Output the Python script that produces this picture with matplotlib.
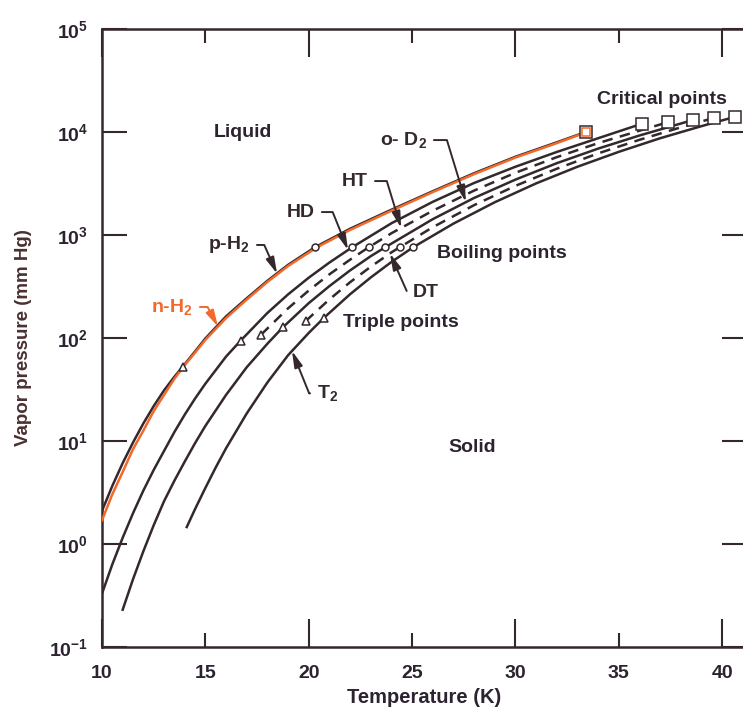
import numpy as np
import matplotlib.pyplot as plt

# fonts: bold sans everywhere, including the math subscripts
plt.rcParams['font.family'] = ['Liberation Sans', 'DejaVu Sans']
plt.rcParams['font.weight'] = 'bold'
plt.rcParams['axes.labelweight'] = 'bold'
plt.rcParams['mathtext.fontset'] = 'custom'
plt.rcParams['mathtext.rm'] = 'Liberation Sans:bold'
plt.rcParams['mathtext.it'] = 'Liberation Sans:bold'
plt.rcParams['mathtext.bf'] = 'Liberation Sans:bold'

INK = '#34282c'
TEXT = '#2c2230'
ORANGE = '#f2692a'

# vapor pressure curves, temperature (K) and pressure (mm Hg)
ph2_T = [10, 10.5, 11, 11.5, 12, 12.5, 13, 13.5, 13.9, 14.5, 15, 16, 17, 18, 19, 20.3,
         22, 24, 26, 28, 30, 32, 33.4]
ph2_P = [2.1, 3.67, 6.1, 9.67, 14.8, 21.8, 31, 42, 52.5, 74, 99, 162, 243, 359, 513, 760,
         1150, 1760, 2660, 3980, 5750, 7940, 10000]

nh2_T = [10, 10.5, 11, 11.5, 12, 12.5, 13, 13.5, 13.95, 14.5, 15, 16, 17, 18, 19, 20.4,
         22, 24, 26, 28, 30, 32, 33.4]
nh2_P = [1.7, 3.04, 5.0, 8.34, 12.6, 19.5, 28, 40.1, 53, 72, 96, 156, 236, 350, 500, 760,
         1120, 1720, 2610, 3900, 5650, 7800, 9900]

hd_T = [10, 10.5, 11, 11.5, 12, 12.5, 13, 13.5, 14, 14.5, 15, 16, 16.7, 18, 19, 20, 21, 22.1,
        24, 26, 28, 30, 32, 34, 36.1]
hd_P = [0.33, 0.635, 1.15, 1.99, 3.3, 5.23, 8.0, 12.2, 18, 25.8, 36, 66, 94, 175, 265, 385, 540, 760,
        1300, 2100, 3200, 4600, 6400, 8700, 12000]

ht_T = [17.7, 19, 20, 21, 22, 22.9, 24, 26, 28, 30, 32, 34, 36, 37.4]
ht_P = [108, 194, 289, 415, 576, 760, 1040, 1720, 2700, 4020, 5700, 7800, 10300, 12500]

d2_T = [11, 11.5, 12, 12.5, 13, 13.5, 14, 14.5, 15, 16, 17, 18, 18.75, 20, 21, 22, 23, 23.7,
        26, 28, 30, 32, 34, 36, 38.6]
d2_P = [0.23, 0.455, 0.85, 1.52, 2.6, 4.11, 6.3, 9.52, 14, 28, 52, 88, 127, 218, 319, 453, 623, 760,
        1425, 2290, 3450, 4980, 6900, 9250, 13100]

dt_T = [19.85, 21, 22, 23, 24, 24.4, 26, 28, 30, 32, 34, 36, 38, 39.6]
dt_P = [146, 237, 348, 492, 678, 760, 1190, 1950, 3000, 4400, 6200, 8400, 11100, 13700]

t2_T = [14.1, 14.5, 15, 15.5, 16, 17, 18, 19, 20, 20.75, 22, 23, 24, 25.05,
        27, 29, 31, 33, 35, 37, 39, 40.6]
t2_P = [1.46, 2.18, 3.5, 5.53, 8.5, 18.5, 37, 68, 112, 158, 266, 387, 547, 760,
        1290, 2080, 3170, 4600, 6420, 8700, 11400, 14000]

# special points
triple_T = [13.9, 16.7, 17.7, 18.75, 19.85, 20.75]
triple_P = [52.5, 94, 108, 127, 146, 158]
boil_T = [20.3, 22.1, 22.9, 23.7, 24.4, 25.05]
boil_P = [760, 760, 760, 760, 760, 760]
crit_T = [33.4, 36.1, 37.4, 38.6, 39.6, 40.6]
crit_P = [10000, 12000, 12500, 13100, 13700, 14000]

x_major = [10, 20, 30, 40]
x_minor = [15, 25, 35]
y_ticks = [1e-1, 1e0, 1e1, 1e2, 1e3, 1e4, 1e5]
y_labels = [r'$10^{-1}$', r'$10^{0}$', r'$10^{1}$', r'$10^{2}$',
            r'$10^{3}$', r'$10^{4}$', r'$10^{5}$']

fig = plt.figure(figsize=(7.43, 7.13), dpi=100)
ax = fig.add_axes([102 / 743, 66 / 713, 645 / 743, 618 / 713])
ax.set_yscale('log')
ax.set_xlim(10, 41.2)
ax.set_ylim(1e-1, 1e5)

lw = 1.8
ax.plot(ph2_T, ph2_P, color=INK, lw=lw, zorder=3)
ax.plot(nh2_T, nh2_P, color=ORANGE, lw=lw, zorder=3)
ax.plot(hd_T, hd_P, color=INK, lw=lw)
ax.plot(ht_T, ht_P, color=INK, lw=lw, dashes=(4.2, 3))
ax.plot(d2_T, d2_P, color=INK, lw=lw)
ax.plot(dt_T, dt_P, color=INK, lw=lw, dashes=(4.2, 3))
ax.plot(t2_T, t2_P, color=INK, lw=lw)

ax.plot(triple_T, triple_P, ls='none', marker='^', ms=6, mfc='white', mec=INK, mew=1.1, zorder=4)
ax.plot(boil_T, boil_P, ls='none', marker='o', ms=5, mfc='white', mec=INK, mew=1.1, zorder=4)
ax.plot(crit_T, crit_P, ls='none', marker='s', ms=8, mfc='white', mec=INK, mew=1.1, zorder=4)
ax.plot(crit_T[0], crit_P[0], ls='none', marker='s', ms=6, mfc='none', mec=ORANGE, mew=1.1, zorder=5)

# region and point-type labels
fs = 14
ax.text(16.8, 9800, 'Liquid', fontsize=fs, color=TEXT, ha='center', va='center')
ax.text(27.9, 8.7, 'Solid', fontsize=fs, color=TEXT, ha='center', va='center')
ax.text(37.1, 20500, 'Critical points', fontsize=fs, color=TEXT, ha='center', va='center')
ax.text(26.2, 668, 'Boiling points', fontsize=fs, color=TEXT, ha='left', va='center')
ax.text(21.66, 140, 'Triple points', fontsize=fs, color=TEXT, ha='left', va='center')

# curve labels with hooked leader arrows
curve_labels = [
    ('p-H$_2$', (18.47, 420), (17.16, 800), 'right', -66, INK),
    ('n-H$_2$', (15.61, 129), (14.40, 200), 'right', -62, ORANGE),
    ('HD', (21.9, 715), (20.3, 1670), 'right', -68, INK),
    ('HT', (24.47, 1170), (22.87, 3340), 'right', -73, INK),
    ('o- D$_2$', (27.6, 2090), (25.72, 8350), 'right', -73, INK),
    ('DT', (23.93, 662), (25.05, 274), 'left', 114, INK),
    ('T$_2$', (19.19, 75), (20.40, 29), 'left', 112, INK),
]
for label, tip, pos, ha, angle, col in curve_labels:
    ax.annotate(label, xy=tip, xytext=pos, ha=ha, va='center', fontsize=fs, color=col,
                arrowprops=dict(arrowstyle='-|>,head_length=0.7,head_width=0.18',
                                connectionstyle=f'angle,angleA=0,angleB={angle},rad=0',
                                color=col, lw=1.4, shrinkA=3, shrinkB=0))

# axes, ticks and labels
ax.set_xticks(x_major, labels=[str(v) for v in x_major])
ax.set_xticks(x_minor, labels=[str(v) for v in x_minor], minor=True)
ax.set_yticks(y_ticks, labels=y_labels)
ax.yaxis.set_minor_locator(plt.NullLocator())
ax.tick_params(axis='x', which='major', direction='in', length=20, width=1.5,
               top=True, bottom=True, pad=13, labelsize=14, colors=INK, labelcolor=TEXT)
ax.tick_params(axis='x', which='minor', direction='in', length=10, width=1.5,
               top=True, bottom=True, pad=13, labelsize=14, colors=INK, labelcolor=TEXT)
ax.tick_params(axis='y', which='major', direction='in', length=18, width=1.5,
               left=True, right=True, pad=10, labelsize=14, colors=INK, labelcolor=TEXT)

for side in ['left', 'top', 'bottom']:
    ax.spines[side].set_linewidth(1.8)
    ax.spines[side].set_color(INK)
ax.spines['right'].set_visible(False)

ax.set_xlabel('Temperature (K)', fontsize=14.5, color=TEXT)
ax.set_ylabel('Vapor pressure (mm Hg)', fontsize=13.5, color='#4a3030')
ax.xaxis.set_label_coords(0.5, -0.066)
ax.yaxis.set_label_coords(-0.108, 0.5)

fig.savefig('out.png', dpi=100)
